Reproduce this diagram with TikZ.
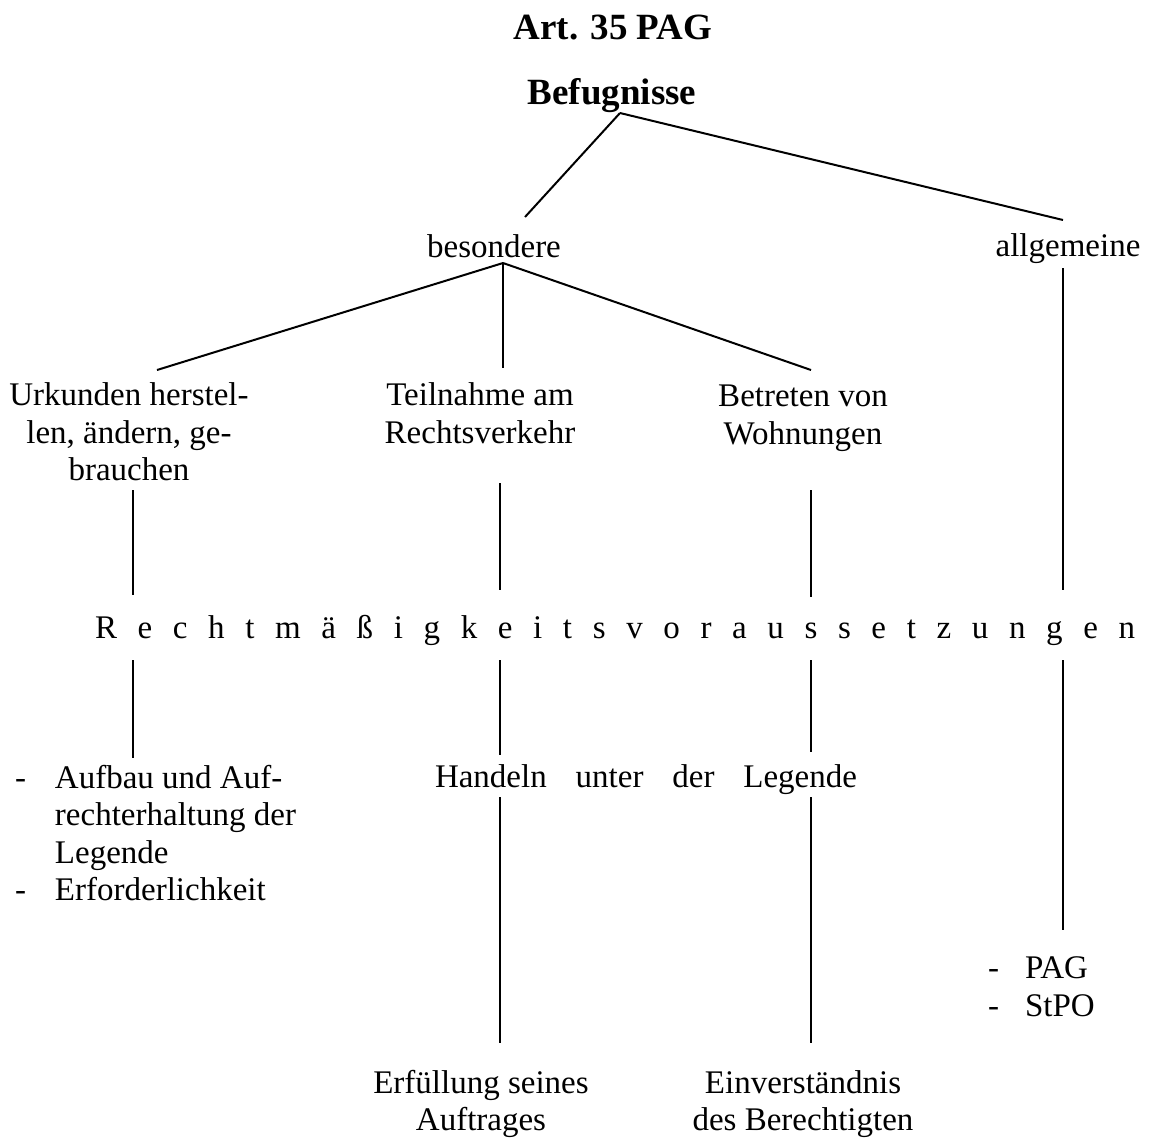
\documentclass[tikz,border=0pt]{standalone}
\usepackage{fontspec}
\setmainfont{Liberation Serif}

\begin{document}
\begin{tikzpicture}[x=0.5pt, y=-0.5pt]
  \useasboundingbox (0,0) rectangle (1157,1137);
  \begin{scope}[every node/.style={inner sep=0, outer sep=0, align=center, font=\fontsize{16.5}{18.8}\selectfont}, head/.style={font=\fontsize{18.5}{22}\selectfont\bfseries}, branch/.style={line width=1pt}]
    % titles
    \node [head] (art) at (613,28) {Art. 35 PAG};
    \node [head] (befug) at (612,96) {Befugnisse};
    \node (bes) at (494,246) {besondere};
    \node (allg) at (1068,249) {allgemeine};
    % the three special powers
    \node (urk) at (129,432) {Urkunden herstel-\\len, ändern, ge-\\brauchen};
    \node (teil) at (480,413) {Teilnahme am\\Rechtsverkehr};
    \node (betr) at (803,418) {Betreten von\\Wohnungen};
    \node (recht) at (615,630) {\makebox[520pt][s]{R e c h t m ä ß i g k e i t s v o r a u s s e t z u n g e n}};
    % requirements
    \node [anchor=west] (aufb) at (15,837) {\begin{tabular}{@{}p{20pt}@{}l@{}}- & Aufbau und Auf-\\ & rechterhaltung der\\ & Legende\\- & Erforderlichkeit\end{tabular}};
    \node (hand) at (646,780) {\makebox[211pt][s]{Handeln unter der Legende}};
    \node [anchor=west] (pag) at (988,990) {\begin{tabular}{@{}p{18.5pt}@{}l@{}}- & PAG\\- & StPO\end{tabular}};
    \node (erf) at (481,1104) {Erfüllung seines\\Auftrages};
    \node (einv) at (803,1104) {Einverständnis\\des Berechtigten};
    % connector ends
    \coordinate (befug-j) at (620,113);
    \coordinate (bes-t) at (525,217);
    \coordinate (allg-t) at (1063,220);
    \coordinate (bes-j) at (503,263);
    \coordinate (urk-t) at (157,370);
    \coordinate (teil-t) at (503,368);
    \coordinate (betr-t) at (811,370);
    \coordinate (allg-b) at (1063,268);
    \coordinate (allg-r) at (1063,590);
    \coordinate (urk-b) at (133,490);
    \coordinate (urk-r) at (133,595);
    \coordinate (teil-b) at (500,483);
    \coordinate (teil-r) at (500,590);
    \coordinate (betr-b) at (811,490);
    \coordinate (betr-r) at (811,597);
    \coordinate (r1) at (133,660);
    \coordinate (aufb-t) at (133,758);
    \coordinate (r2) at (500,660);
    \coordinate (hand-t1) at (500,755);
    \coordinate (r3) at (811,660);
    \coordinate (hand-t2) at (811,752);
    \coordinate (r4) at (1063,660);
    \coordinate (pag-t) at (1063,930);
    \coordinate (hand-b1) at (500,797);
    \coordinate (erf-t) at (500,1043);
    \coordinate (hand-b2) at (811,797);
    \coordinate (einv-t) at (811,1043);
    \foreach \a/\b in {befug-j/bes-t, befug-j/allg-t, bes-j/urk-t, bes-j/teil-t, bes-j/betr-t, allg-b/allg-r, urk-b/urk-r, teil-b/teil-r, betr-b/betr-r, r1/aufb-t, r2/hand-t1, r3/hand-t2, r4/pag-t, hand-b1/erf-t, hand-b2/einv-t} {\draw [branch] (\a) -- (\b);}
  \end{scope}
\end{tikzpicture}
\end{document}
